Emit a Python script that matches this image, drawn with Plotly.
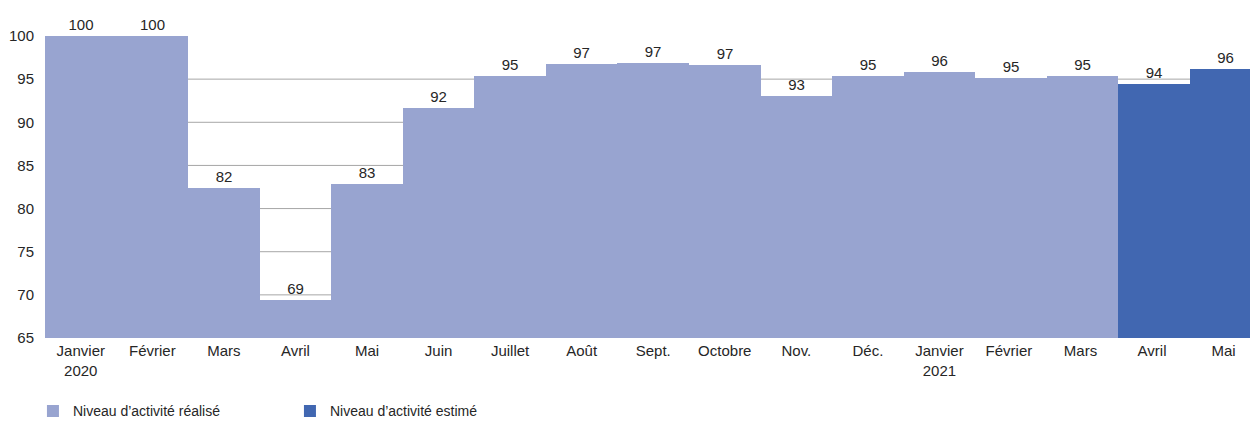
import plotly.graph_objects as go

months = ["Janvier<br>2020", "Février", "Mars", "Avril", "Mai", "Juin", "Juillet", "Août",
          "Sept.", "Octobre", "Nov.", "Déc.", "Janvier<br>2021", "Février ", "Mars ", "Avril ", "Mai "]
realise_months = months[:15]
realise_values = [100, 100, 82.4, 69.4, 82.9, 91.7, 95.4, 96.8, 96.9, 96.6, 93.0, 95.4, 95.8, 95.1, 95.4]
estime_months = months[15:]
estime_values = [94.4, 96.2]
grid_values = [70, 75, 80, 85, 90, 95]
y_ticks = [65, 70, 75, 80, 85, 90, 95, 100]

FONT = "Liberation Sans, Arial, sans-serif"
LIGHT = "#98A4D0"
DARK = "#4167B1"
TXT = "#262626"

fig = go.Figure()
fig.add_trace(go.Bar(
    x=realise_months, y=realise_values, name="Niveau d’activité réalisé",
    marker=dict(color=LIGHT, line=dict(width=0)),
    texttemplate="%{y:.0f}", textposition="outside", cliponaxis=False,
    textfont=dict(size=15, color=TXT, family=FONT),
))
fig.add_trace(go.Bar(
    x=estime_months, y=estime_values, name="Niveau d’activité estimé",
    marker=dict(color=DARK, line=dict(width=0)),
    texttemplate="%{y:.0f}", textposition="outside", cliponaxis=False,
    textfont=dict(size=15, color=TXT, family=FONT),
))

for g in grid_values:
    fig.add_shape(type="line", xref="paper", x0=0, x1=1, yref="y", y0=g, y1=g,
                  line=dict(color="#A6A6A6", width=1), layer="below")

fig.update_layout(
    width=1250, height=421,
    margin=dict(l=45, r=0, t=36, b=83, autoexpand=False),
    paper_bgcolor="white", plot_bgcolor="white",
    barmode="overlay", bargap=0,
    font=dict(family=FONT, size=15, color=TXT),
    xaxis=dict(type="category", categoryorder="array", categoryarray=months,
               range=[-0.5, 16.34], showgrid=False, showline=False, ticks="",
               automargin=False, ticklabelstandoff=2,
               tickfont=dict(size=15, family=FONT, color=TXT)),
    yaxis=dict(range=[65, 100], tickvals=y_ticks, showgrid=False, zeroline=False,
               showline=False, ticks="", ticklabelstandoff=10, automargin=False,
               tickfont=dict(size=15, family=FONT, color=TXT)),
    legend=dict(orientation="h", x=-0.01, xanchor="left", y=-0.243, yanchor="middle",
                font=dict(size=14, family=FONT, color=TXT),
                entrywidth=212, entrywidthmode="pixels", traceorder="normal"),
    showlegend=True,
)

fig.write_html("out.html", config={"displayModeBar": False},
               post_script="document.body.style.margin='0';")
